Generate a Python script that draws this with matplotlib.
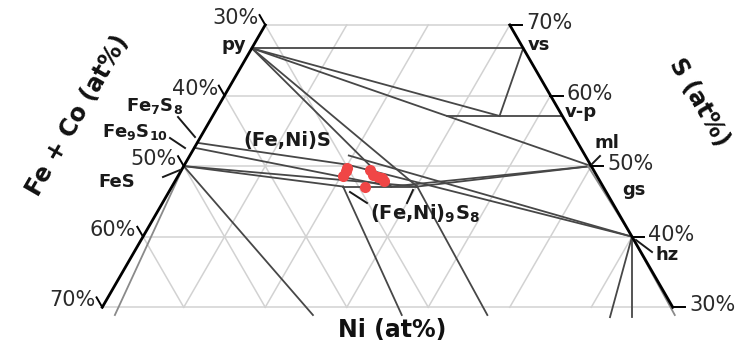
import numpy as np
import matplotlib.pyplot as plt

H = np.sqrt(3) / 2


def tern(ni, s):
    # (Ni at%, S at%) -> cartesian, Fe corner at origin, S corner on top
    ni = np.asarray(ni, float) / 100
    s = np.asarray(s, float) / 100
    return ni + s / 2, s * H


def px(x, y):
    # layout helper: figure pixel -> data coordinates
    return (x + 20) / 815, (519 - y) / 815


# phase compositions, (Ni at%, S at%)
py_ = (0, 66.7)
vs = (33.3, 66.7)
vp = (42.9, 57.1)
ml = (50.0, 50.0)
hz = (60.0, 40.0)
fe7s8 = (0, 53.3)
fe9s10 = (0, 52.6)
fes = (0, 50.0)
pn_left = (21.0, 47.1)
pn_mid = (26.9, 47.1)
pn_right = (30.1, 47.1)
mss_a = (20.0, 50.2)
mss_b = (19.5, 51.5)
vs_knee = (35.2, 57.1)
vp_start = (28.7, 57.1)

# tie lines
dark_lines = [
    (py_, vs), (py_, vs_knee), (vs, vs_knee), (vp_start, vp),
    (py_, ml), (py_, pn_mid), (py_, pn_right),
    (fe7s8, mss_a), (fe9s10, pn_mid), (fes, pn_right), (fes, pn_left),
    (pn_left, pn_right), (pn_mid, ml), (pn_right, ml),
    (mss_a, hz), (mss_b, hz),
    (fes, (26.4, 28.9)), (pn_left, (37.3, 28.9)), (pn_right, (47.8, 28.9)),
    (hz, (63.0, 28.6)), (hz, (65.7, 28.6)),
]
light_lines = [
    (fes, (2.1, 28.9)), ((49.6, 50.0), hz), (hz, (70.8, 28.9)),
]

# measured compositions
dots_ni = [20.1, 20.2, 20.2, 23.1, 23.9, 24.6, 25.2, 25.6, 23.7]
dots_s = [49.8, 49.3, 48.6, 49.4, 48.7, 48.4, 48.3, 47.9, 47.0]

s_ticks = [30, 40, 50, 60, 70]

fig = plt.figure(figsize=(7.43, 3.58), dpi=100)
ax = fig.add_axes([0, 0, 1, 1])
ax.set_xlim(20 / 815, 763 / 815)
ax.set_ylim(161 / 815, 519 / 815)
ax.axis('off')

grid = dict(color='#d2d2d2', lw=1.1, zorder=1)
for s in s_ticks:
    ax.plot(*tern([0, 100 - s], [s, s]), **grid)
for k in range(10, 70, 10):
    top = min(70, 100 - k)
    if top > 30:
        ax.plot(*tern([k, k], [30, top]), **grid)
for f in range(30, 70, 10):
    top = min(70, 100 - f)
    if top > 30:
        ax.plot(*tern([100 - f - 30, 100 - f - top], [30, top]), **grid)

for a, b in dark_lines:
    ax.plot(*tern([a[0], b[0]], [a[1], b[1]]), color='#474747', lw=1.3, zorder=2)
for a, b in light_lines:
    ax.plot(*tern([a[0], b[0]], [a[1], b[1]]), color='#8a8a8a', lw=1.3, zorder=2)

# edges
ax.plot(*tern([0, 0], [30, 70]), color='black', lw=2, zorder=3)
ax.plot(*tern([30, 70], [70, 30]), color='black', lw=2, zorder=3)

# ticks
for s in s_ticks:
    x0, y0 = tern(0, s)
    x1, y1 = tern(-1.4, s + 1.4)
    ax.plot([x0, x1], [y0, y1], color='black', lw=1.4, zorder=3)
    ax.annotate(f"{100 - s}%", (x1, y1), xytext=(-1, -3), textcoords='offset pixels',
                ha='right', va='center', fontsize=15, color='#2a2a2a')
    x0, y0 = tern(100 - s, s)
    x1, y1 = tern(101.5 - s, s)
    ax.plot([x0, x1], [y0, y1], color='black', lw=1.4, zorder=3)
    ax.annotate(f"{s}%", (x1, y1), xytext=(4, 2), textcoords='offset pixels',
                ha='left', va='center', fontsize=15, color='#2a2a2a')

x, y = tern(dots_ni, dots_s)
ax.plot(x, y, 'o', color='#f04646', ms=8, mec='none', zorder=4)

# phase labels
lab = dict(fontsize=13, fontweight='bold', color='#1a1a1a', va='center')
ax.text(*px(246, 45), "py", ha='right', **lab)
ax.text(*px(528, 45), "vs", ha='left', **lab)
ax.text(*px(565, 112), "v-p", ha='left', **lab)
ax.text(*px(595, 143), "ml", ha='left', **lab)
ax.text(*px(622, 190), "gs", ha='left', **lab)
ax.text(*px(656, 255), "hz", ha='left', **lab)
ax.text(*px(183, 106), r"Fe$_\mathbf{7}$S$_\mathbf{8}$", ha='right', **lab)
ax.text(*px(168, 132), r"Fe$_\mathbf{9}$S$_\mathbf{10}$", ha='right', **lab)
ax.text(*px(135, 182), "FeS", ha='right', **lab)
ax.text(*px(287, 140), "(Fe,Ni)S", ha='center', fontsize=14, fontweight='bold',
        color='#1a1a1a', va='center')
ax.text(*px(425, 214), r"(Fe,Ni)$_\mathbf{9}$S$_\mathbf{8}$", ha='center', fontsize=14,
        fontweight='bold', color='#1a1a1a', va='center')

pointers = [((178, 117), (195, 137)), ((170, 138), (185, 148)), ((163, 177), (180, 170)),
            ((592, 164), (600, 156)), ((636, 240), (652, 252)),
            ((350, 192), (367, 203)), ((413, 190), (407, 203))]
for p, q in pointers:
    (xa, ya), (xb, yb) = px(*p), px(*q)
    ax.plot([xa, xb], [ya, yb], color='#1a1a1a', lw=1.4, zorder=3)

# axis titles
title = dict(fontsize=17, fontweight='bold', ha='center', va='center', color='#111111')
ax.text(*px(78, 115), "Fe + Co (at%)", rotation=60, **title)
ax.text(*px(699, 102), "S (at%)", rotation=-60, **title)
ax.text(*px(392, 330), "Ni (at%)", **title)

fig.savefig("out.png", dpi=100)
